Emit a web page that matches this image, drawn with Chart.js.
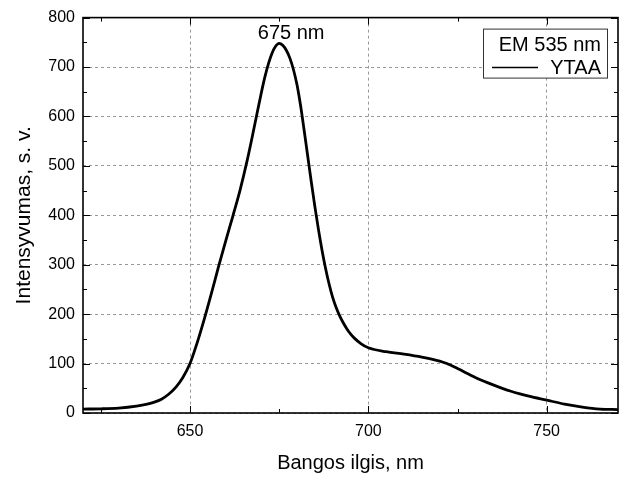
<!DOCTYPE html>
<html lang="lt">

<head>
    <meta charset="UTF-8">
    <title>EM 535 nm - YTAA</title>
    <script src="https://cdn.jsdelivr.net/npm/chart.js"></script>
    <style>
        html, body { margin: 0; padding: 0; background: #fff; }
        .chart-box { width: 627px; height: 477px; }
    </style>
</head>

<body>
    <div class="chart-box">
        <canvas id="grafikas"></canvas>
    </div>
</body>

</html>

<script>
    // Duomenys (nuskaityta nuo paveikslo)
    const bangosIlgis = [620, 625, 630, 635, 638, 640, 642, 644, 646, 648, 650, 652, 654, 656, 658, 660, 662, 664, 666, 668,
        670, 671, 672, 673, 674, 675, 676, 677, 678, 679, 680, 681, 682, 683, 684, 685, 686, 687, 688, 689,
        690, 691, 692, 693, 694, 695, 696, 698, 700, 705, 710, 715, 720, 722, 725, 730, 735, 740, 745, 750,
        755, 760, 765, 770];
    const intensyvumas = [8, 8.5, 10, 14, 18, 22, 28, 38, 52, 72, 100, 142, 190, 242, 296, 348, 398, 450, 510, 578,
        648, 680, 707, 728, 742, 748, 744, 734, 718, 695, 664, 622, 572, 520, 468, 418, 372, 330, 293, 261,
        234, 213, 196, 182, 170, 160, 152, 140, 132, 124, 119, 113, 105, 100, 90, 72, 57, 44, 34, 26,
        18, 12, 8, 7];

    const xTicks = [650, 700, 750];
    const yTicks = [0, 100, 200, 300, 400, 500, 600, 700, 800];
    const xMinor = [625, 675, 725];
    const yMinor = [50, 150, 250, 350, 450, 550, 650, 750];

    const serijosPavadinimas = 'YTAA';
    const legendosAntraste = 'EM 535 nm';
    const smailesX = 675;
    const smailesY = 748;
    const smailesTekstas = '675 nm';

    const SRIFTAS = 'Arial, "Liberation Sans", sans-serif';
    Chart.defaults.color = '#000';
    Chart.defaults.font.family = SRIFTAS;

    // Rėmelis, vidinės žymės, legenda ir smailės užrašas
    const remelis = {
        id: 'remelis',
        afterDraw(chart) {
            const { ctx, chartArea: a, scales: { x, y } } = chart;
            ctx.save();
            ctx.strokeStyle = '#000';
            ctx.lineWidth = 1;

            function zyme(px, ilgis, horizontali) {
                ctx.beginPath();
                if (horizontali) {
                    ctx.moveTo(px, a.bottom); ctx.lineTo(px, a.bottom - ilgis);
                    ctx.moveTo(px, a.top); ctx.lineTo(px, a.top + ilgis);
                } else {
                    ctx.moveTo(a.left, px); ctx.lineTo(a.left + ilgis, px);
                    ctx.moveTo(a.right, px); ctx.lineTo(a.right - ilgis, px);
                }
                ctx.stroke();
            }
            xTicks.forEach(v => zyme(Math.round(x.getPixelForValue(v)) + 0.5, 7, true));
            xMinor.forEach(v => zyme(Math.round(x.getPixelForValue(v)) + 0.5, 4, true));
            yTicks.forEach(v => zyme(Math.round(y.getPixelForValue(v)) + 0.5, 7, false));
            yMinor.forEach(v => zyme(Math.round(y.getPixelForValue(v)) + 0.5, 4, false));

            ctx.lineWidth = 1.6;
            ctx.strokeRect(a.left, a.top, a.right - a.left, a.bottom - a.top);

            // smailės užrašas
            ctx.fillStyle = '#000';
            ctx.font = '20px ' + SRIFTAS;
            ctx.textAlign = 'center';
            ctx.textBaseline = 'middle';
            ctx.fillText(smailesTekstas, x.getPixelForValue(smailesX) + 12, y.getPixelForValue(smailesY) - 10);

            // legenda
            const ds = chart.data.datasets[0];
            const bx = a.right - 135, by = a.top + 11, bw = 124, bh = 49;
            ctx.fillStyle = '#fff';
            ctx.fillRect(bx, by, bw, bh);
            ctx.lineWidth = 1;
            ctx.strokeStyle = '#333';
            ctx.strokeRect(bx + 0.5, by + 0.5, bw, bh);
            ctx.fillStyle = '#000';
            ctx.font = '20px ' + SRIFTAS;
            ctx.textAlign = 'right';
            ctx.fillText(legendosAntraste, bx + bw - 6, by + 17);
            ctx.fillText(ds.label, bx + bw - 6, by + 40);
            ctx.strokeStyle = ds.borderColor;
            ctx.lineWidth = 1.5;
            ctx.beginPath();
            ctx.moveTo(bx + 9, by + 39);
            ctx.lineTo(bx + 55, by + 39);
            ctx.stroke();
            ctx.restore();
        }
    };

    const taskai = bangosIlgis.map((v, i) => ({ x: v, y: intensyvumas[i] }));

    const config = {
        type: 'line',
        data: {
            datasets: [{
                label: serijosPavadinimas,
                data: taskai,
                borderColor: '#000',
                borderWidth: 2.8,
                pointRadius: 0,
                fill: false,
                cubicInterpolationMode: 'monotone'
            }]
        },
        options: {
            responsive: false,
            animation: false,
            layout: { padding: { top: 16, right: 9, left: 0, bottom: 0 } },
            plugins: {
                legend: { display: false },
                tooltip: { enabled: false }
            },
            scales: {
                x: {
                    type: 'linear',
                    min: 620,
                    max: 770,
                    afterBuildTicks: s => { s.ticks = xTicks.map(v => ({ value: v })); },
                    afterFit: s => { s.height = 64; },
                    grid: { color: '#999', lineWidth: 1, drawTicks: false },
                    border: { display: false, dash: [3, 3] },
                    ticks: { padding: 9, font: { size: 16 }, maxRotation: 0 },
                    title: {
                        display: true,
                        text: 'Bangos ilgis, nm',
                        font: { size: 20 },
                        padding: { top: 0, bottom: 2 }
                    }
                },
                y: {
                    min: 0,
                    max: 800,
                    afterBuildTicks: s => { s.ticks = yTicks.map(v => ({ value: v })); },
                    afterFit: s => { s.width = 83; },
                    grid: { color: '#999', lineWidth: 1, drawTicks: false },
                    border: { display: false, dash: [3, 3] },
                    ticks: { padding: 8, font: { size: 16 } },
                    title: {
                        display: true,
                        text: 'Intensyvumas, s. v.',
                        font: { size: 21 },
                        padding: { top: 12, bottom: 0 }
                    }
                }
            }
        },
        plugins: [remelis]
    };

    const canvas = document.getElementById('grafikas');
    canvas.width = 627;
    canvas.height = 477;
    new Chart(canvas, config);
</script>
